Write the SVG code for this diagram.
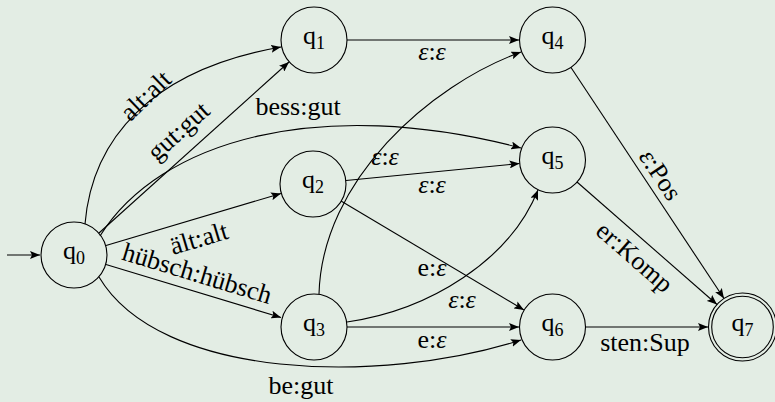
<svg xmlns="http://www.w3.org/2000/svg" width="775" height="402" viewBox="0 0 775 402">
  <style>
    .state { fill: none; stroke: #000; stroke-width: 1.1; }
    .edge { fill: none; stroke: #000; stroke-width: 1.1; marker-end: url(#tip); }
    .lbl { font-family: "Liberation Serif", "Times New Roman", serif; font-size: 26px; fill: #000; text-anchor: middle; }
    .eps { font-style: italic; }
    .sub { font-size: 18px; }
  </style>
  <defs>
    <marker id="tip" viewBox="0 0 10 8" refX="10" refY="4" markerWidth="10" markerHeight="8" markerUnits="userSpaceOnUse" orient="auto">
      <path d="M0,0 L10,4 L0,8 L2,4 z" fill="#000"/>
    </marker>
  </defs>
  <rect x="0" y="0" width="775" height="402" fill="#e3ede4"/>

  <!-- transitions -->
  <g id="edges">
    <path class="edge" d="M7,255 L40,255"/>
    <path class="edge" d="M85,224 C92,140 150,70 281,47"/>
    <path class="edge" d="M99,233 L289,62"/>
    <path class="edge" d="M100,236 C160,140 320,95 521,148"/>
    <path class="edge" d="M106,245.5 L281,193.5"/>
    <path class="edge" d="M106,264.5 L281,317.5"/>
    <path class="edge" d="M99,277 C160,380 380,385 521,340"/>
    <path class="edge" d="M347,40 L519,40"/>
    <path class="edge" d="M346,180.5 L519.5,163.5"/>
    <path class="edge" d="M341,201 L524,310"/>
    <path class="edge" d="M319,294 C322,180 430,85 521,52"/>
    <path class="edge" d="M347,322 C430,310 510,260 538,190"/>
    <path class="edge" d="M347,327 L519,327"/>
    <path class="edge" d="M571,67.5 L724,298.5"/>
    <path class="edge" d="M577,182 L717,304.5"/>
    <path class="edge" d="M586,327 L708,327"/>

    <!-- transition labels -->
    <text class="lbl" transform="translate(146,96) rotate(-44)" y="8">alt:alt</text>
    <text class="lbl" transform="translate(180,133) rotate(-42)" y="6">gut:gut</text>
    <text class="lbl" x="298" y="115">bess:gut</text>
    <text class="lbl" transform="translate(199,239) rotate(-16.6)" y="8">ält:alt</text>
    <text class="lbl" transform="translate(197,274) rotate(16.8)" y="8">hübsch:hübsch</text>
    <text class="lbl" x="301" y="394">be:gut</text>
    <text class="lbl" x="432" y="60"><tspan class="eps">ε</tspan>:<tspan class="eps">ε</tspan></text>
    <text class="lbl" x="432" y="193"><tspan class="eps">ε</tspan>:<tspan class="eps">ε</tspan></text>
    <text class="lbl" x="432" y="276">e:<tspan class="eps">ε</tspan></text>
    <text class="lbl" x="385" y="165"><tspan class="eps">ε</tspan>:<tspan class="eps">ε</tspan></text>
    <text class="lbl" x="462" y="308"><tspan class="eps">ε</tspan>:<tspan class="eps">ε</tspan></text>
    <text class="lbl" x="432" y="348">e:<tspan class="eps">ε</tspan></text>
    <text class="lbl" transform="translate(660,175) rotate(56.5)" y="8"><tspan class="eps">ε</tspan>:Pos</text>
    <text class="lbl" transform="translate(633,259) rotate(41.3)" y="6">er:Komp</text>
    <text class="lbl" x="645" y="351">sten:Sup</text>
  </g>

  <!-- states -->
  <g id="q0">
    <circle class="state" cx="74" cy="255" r="33"/>
    <text class="lbl" x="74" y="259">q<tspan class="sub" dy="5">0</tspan></text>
  </g>
  <g id="q1">
    <circle class="state" cx="314" cy="40" r="33"/>
    <text class="lbl" x="314" y="44">q<tspan class="sub" dy="5">1</tspan></text>
  </g>
  <g id="q2">
    <circle class="state" cx="313" cy="184" r="33"/>
    <text class="lbl" x="313" y="188">q<tspan class="sub" dy="5">2</tspan></text>
  </g>
  <g id="q3">
    <circle class="state" cx="314" cy="327" r="33"/>
    <text class="lbl" x="314" y="331">q<tspan class="sub" dy="5">3</tspan></text>
  </g>
  <g id="q4">
    <circle class="state" cx="552.5" cy="40" r="33"/>
    <text class="lbl" x="552.5" y="44">q<tspan class="sub" dy="5">4</tspan></text>
  </g>
  <g id="q5">
    <circle class="state" cx="552.5" cy="160" r="33"/>
    <text class="lbl" x="552.5" y="164">q<tspan class="sub" dy="5">5</tspan></text>
  </g>
  <g id="q6">
    <circle class="state" cx="552.5" cy="327" r="33"/>
    <text class="lbl" x="552.5" y="331">q<tspan class="sub" dy="5">6</tspan></text>
  </g>
  <g id="q7">
    <circle class="state" cx="742.5" cy="327" r="34"/>
    <circle class="state" cx="742.5" cy="327" r="30.8"/>
    <text class="lbl" x="742.5" y="331">q<tspan class="sub" dy="5">7</tspan></text>
  </g>
</svg>
